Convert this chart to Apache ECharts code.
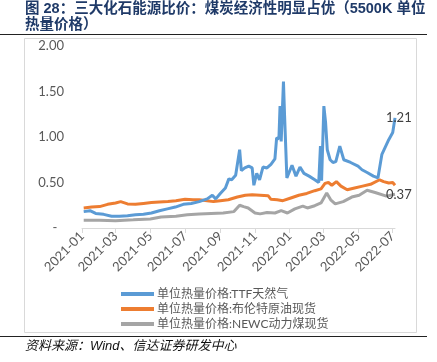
<!DOCTYPE html>
<html><head><meta charset="utf-8">
<script src="https://cdn.jsdelivr.net/npm/echarts@6/dist/echarts.min.js"></script>
<style>html,body{margin:0;padding:0;background:#fff}#c{width:437px;height:362px}</style>
</head><body><div id="c"></div>
<script>
const titleLines = ['图 28：三大化石能源比价：煤炭经济性明显占优（5500K 单位', '热量价格）'];
const sourceText = '资料来源：Wind、信达证券研发中心';
const seriesNames = ['单位热量价格:TTF天然气', '单位热量价格:布伦特原油现货', '单位热量价格:NEWC动力煤现货'];
const xTickLabels = ['2021-01','2021-03','2021-05','2021-07','2021-09','2021-11','2022-01','2022-03','2022-05','2022-07'];
const yTickValues = [0, 0.5, 1, 1.5, 2];

const ttfDates = ['2021-01-04','2021-01-15','2021-01-25','2021-02-08','2021-02-22','2021-03-08','2021-03-22','2021-04-05','2021-04-19','2021-05-03','2021-05-17','2021-05-31','2021-06-14','2021-06-28','2021-07-12','2021-07-26','2021-08-09','2021-08-18','2021-08-24','2021-09-01','2021-09-10','2021-09-16','2021-09-21','2021-09-28','2021-10-05','2021-10-08','2021-10-14','2021-10-21','2021-10-27','2021-10-30','2021-11-04','2021-11-09','2021-11-15','2021-11-22','2021-11-29','2021-12-06','2021-12-09','2021-12-13','2021-12-15','2021-12-17','2021-12-21','2021-12-23','2021-12-27','2022-01-05','2022-01-12','2022-01-19','2022-01-26','2022-02-04','2022-02-14','2022-02-21','2022-02-24','2022-02-26','2022-03-02','2022-03-05','2022-03-08','2022-03-13','2022-03-18','2022-03-23','2022-03-30','2022-04-06','2022-04-18','2022-05-01','2022-05-08','2022-05-17','2022-05-28','2022-06-05','2022-06-12','2022-06-24','2022-07-01','2022-07-05'];
const ttfValues = [0.18,0.19,0.16,0.15,0.13,0.13,0.135,0.145,0.15,0.165,0.19,0.21,0.23,0.26,0.27,0.29,0.32,0.36,0.32,0.38,0.44,0.54,0.53,0.58,0.86,0.63,0.66,0.68,0.66,0.47,0.60,0.53,0.67,0.66,0.70,0.76,0.99,0.98,1.34,0.95,1.61,1.23,0.55,0.69,0.57,0.67,0.60,0.57,0.53,0.50,0.90,0.52,1.34,1.16,0.86,0.75,0.72,0.73,0.90,0.75,0.72,0.68,0.64,0.61,0.57,0.55,0.81,0.97,1.05,1.21];

const brentDates = ['2021-01-04','2021-01-18','2021-02-01','2021-02-15','2021-03-01','2021-03-10','2021-03-22','2021-04-05','2021-04-19','2021-05-03','2021-05-17','2021-06-01','2021-06-15','2021-07-01','2021-07-15','2021-07-26','2021-08-09','2021-08-20','2021-09-01','2021-09-15','2021-10-01','2021-10-15','2021-10-27','2021-11-10','2021-11-24','2021-11-29','2021-12-10','2021-12-20','2022-01-03','2022-01-17','2022-01-31','2022-02-14','2022-02-25','2022-03-04','2022-03-10','2022-03-16','2022-03-24','2022-04-01','2022-04-12','2022-04-25','2022-05-09','2022-05-23','2022-06-08','2022-06-15','2022-06-24','2022-07-01','2022-07-05'];
const brentValues = [0.22,0.23,0.235,0.26,0.275,0.29,0.265,0.26,0.27,0.28,0.285,0.29,0.30,0.315,0.31,0.31,0.30,0.29,0.30,0.31,0.34,0.36,0.365,0.36,0.355,0.315,0.31,0.30,0.33,0.36,0.38,0.41,0.43,0.49,0.50,0.47,0.51,0.46,0.42,0.44,0.46,0.48,0.53,0.51,0.495,0.50,0.47];

const newcDates = ['2021-01-04','2021-02-01','2021-03-01','2021-04-01','2021-05-01','2021-05-20','2021-06-15','2021-07-05','2021-07-26','2021-08-16','2021-09-06','2021-09-25','2021-10-05','2021-10-12','2021-10-20','2021-11-01','2021-11-10','2021-11-22','2021-12-06','2021-12-17','2021-12-28','2022-01-10','2022-01-24','2022-02-01','2022-02-14','2022-02-25','2022-03-07','2022-03-14','2022-03-22','2022-04-05','2022-04-20','2022-05-03','2022-05-17','2022-05-31','2022-06-20','2022-07-05'];
const newcValues = [0.085,0.085,0.08,0.09,0.10,0.12,0.13,0.145,0.155,0.16,0.165,0.18,0.25,0.235,0.22,0.165,0.155,0.17,0.165,0.19,0.165,0.21,0.24,0.22,0.245,0.275,0.385,0.31,0.265,0.29,0.34,0.36,0.415,0.39,0.35,0.37];

function dayTs(s){ const p = s.split('-'); return Date.UTC(+p[0], +p[1]-1, p[2] ? +p[2] : 1); }
function pairs(d, v){ return d.map((s,i)=>[dayTs(s), v[i]]); }
const xTickValues = xTickLabels.map(dayTs);
function pad(n){ return n < 10 ? '0' + n : '' + n; }

const chart = echarts.init(document.getElementById('c'));
const numFont = "Lato, 'Noto Sans CJK SC', sans-serif";
const endLbl = {
  show: true, formatter: p => p.value[1].toFixed(2), color: '#404040',
  fontSize: 13, fontFamily: numFont, distance: 0, offset: [-9, 0]
};
chart.setOption({
  animation: false,
  grid: { left: 82, right: 42, top: 46, height: 182, containLabel: false },
  xAxis: {
    type: 'value',
    min: dayTs('2021-01-01'),
    max: dayTs('2022-07-05'),
    axisLine: { show: true, onZero: false, lineStyle: { color: '#D9D9D9', width: 1 } },
    axisTick: { show: true, length: 5, lineStyle: { color: '#D9D9D9' }, customValues: xTickValues },
    splitLine: { show: false },
    axisLabel: {
      customValues: xTickValues, rotate: 45, color: '#595959', fontSize: 13, fontFamily: numFont,
      margin: 6,
      formatter: v => { const d = new Date(v); return d.getUTCFullYear() + '-' + pad(d.getUTCMonth()+1); }
    }
  },
  yAxis: {
    type: 'value', min: 0, max: 2, interval: 0.5,
    axisLine: { show: false }, axisTick: { show: false }, splitLine: { show: false },
    axisLabel: { color: '#595959', fontSize: 13, fontFamily: numFont, margin: 18,
      formatter: v => v === 0 ? '-  ' : v.toFixed(2) }
  },
  legend: {
    orient: 'vertical', left: 116, top: 283, itemWidth: 33, itemHeight: 4, itemGap: 3,
    icon: 'rect', textStyle: { color: '#595959', fontSize: 12, fontFamily: numFont, padding: [0,0,0,-2] },
    data: seriesNames
  },
  series: [
    { name: seriesNames[0], type: 'line', data: pairs(ttfDates, ttfValues), showSymbol: false, symbol: 'none',
      lineStyle: { width: 3, color: '#5B9BD5' }, itemStyle: { color: '#5B9BD5' }, endLabel: endLbl, z: 3 },
    { name: seriesNames[1], type: 'line', data: pairs(brentDates, brentValues), showSymbol: false, symbol: 'none',
      lineStyle: { width: 3, color: '#ED7D31' }, itemStyle: { color: '#ED7D31' }, z: 2 },
    { name: seriesNames[2], type: 'line', data: pairs(newcDates, newcValues), showSymbol: false, symbol: 'none',
      lineStyle: { width: 3, color: '#A5A5A5' }, itemStyle: { color: '#A5A5A5' }, endLabel: endLbl, z: 1 }
  ],
  graphic: [
    { type: 'text', left: 25, top: 2, style: { text: titleLines[0], fill: '#1F3A68', font: "bold 14.5px 'Liberation Sans', 'Noto Sans CJK SC', sans-serif" } },
    { type: 'text', left: 25, top: 18, style: { text: titleLines[1], fill: '#1F3A68', font: "bold 14.5px 'Liberation Sans', 'Noto Sans CJK SC', sans-serif" } },
    { type: 'line', shape: { x1: 0, y1: 34.5, x2: 427, y2: 34.5 }, style: { stroke: '#222', lineWidth: 1.2 } },
    { type: 'rect', shape: { x: 24.5, y: 38.5, width: 392, height: 294 }, style: { stroke: '#D9D9D9', fill: 'none', lineWidth: 1 }, z: -1 },
    { type: 'line', shape: { x1: 0, y1: 336.5, x2: 427, y2: 336.5 }, style: { stroke: '#222', lineWidth: 1.2 } },
    { type: 'text', left: 25, top: 340, style: { text: sourceText, fill: '#111', font: "italic 13px 'Liberation Sans', 'Noto Sans CJK SC', sans-serif" } }
  ]
});
</script></body></html>
